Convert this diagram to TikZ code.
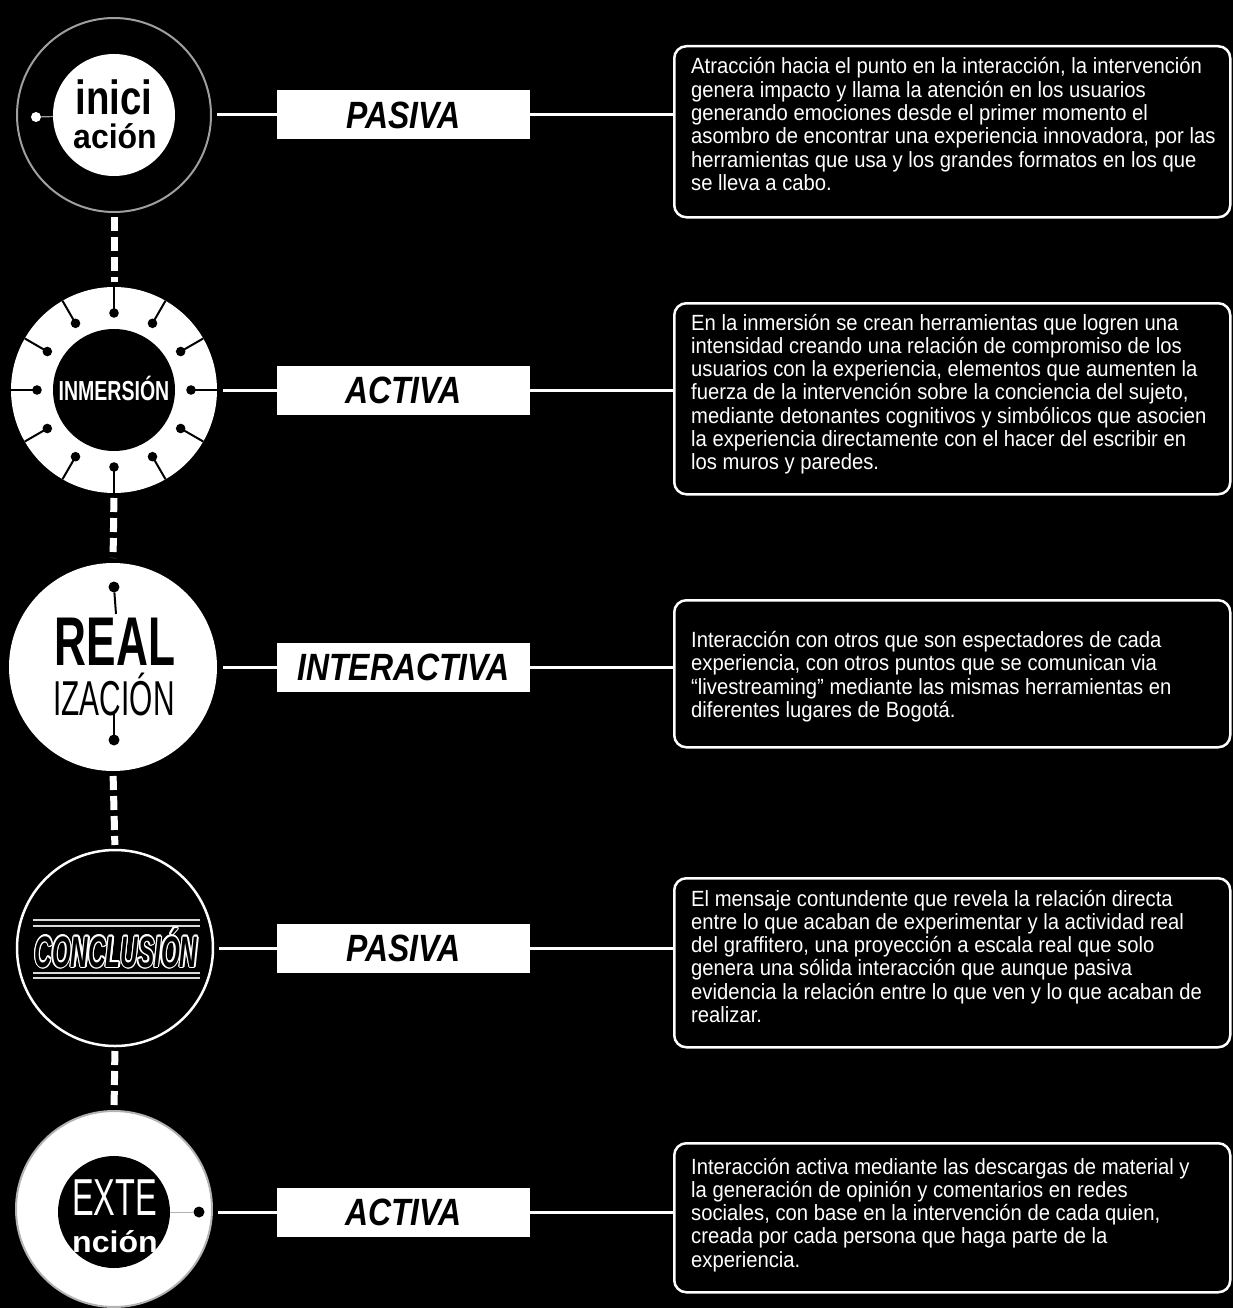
\documentclass[tikz,border=0pt]{standalone}
\usepackage{fontspec}
\setmainfont{Liberation Sans}
\newfontfamily\bodyfont[FakeStretch=0.92]{Liberation Sans}
\newfontfamily\labfont[FakeStretch=0.84]{Liberation Sans}
\begin{document}
\begin{tikzpicture}[x=1pt,y=-1pt,
  wl/.style={white, line width=3pt},
  dashl/.style={white, line width=7pt, dash pattern=on 14pt off 6pt, shorten <=5pt, shorten >=5pt},
  lbox/.style={fill=white, text=black, minimum width=253pt, minimum height=49pt, inner sep=0pt,
    font=\labfont\bfseries\itshape\fontsize{38}{38}\selectfont},
  tbox/.style={draw=white, line width=2.5pt, rounded corners=12pt, minimum width=556pt, anchor=north west, inner sep=0pt},
  body/.style={text=white, anchor=base west, inner sep=0pt, font=\bodyfont\fontsize{22}{23}\selectfont},
  disc/.style={circle, inner sep=0pt, outer sep=0pt},
  ctext/.style={inner sep=0pt, anchor=base},
]
\path[use as bounding box, fill=black] (0,0) rectangle (1233,1308);

% ---------- circle 1 : iniciación
\node[disc, draw=gray!75, line width=2pt, minimum size=194pt] (c1) at (114,115) {};
\node[disc, fill=white, minimum size=122pt] (c1in) at (114,115) {};
\node[ctext, text=black] (c1ta) at (114,115) {\scalebox{0.8}[1]{\fontsize{48}{48}\selectfont\bfseries inici}};
\node[ctext, text=black] (c1tb) at (115,149) {\scalebox{0.8}[0.85]{\fontsize{40}{40}\selectfont\bfseries ación}};
\node[disc, fill=white, minimum size=10pt] (c1d) at (36,117) {};
\draw[gray!75, line width=1.2pt] (c1d) -- (c1in);

% ---------- circle 2 : inmersión
\node[disc, fill=white, minimum size=206pt] (c2) at (114,390) {};
\node[disc, fill=black, minimum size=122pt] (c2in) at (114,390) {};
\foreach \a in {0,30,...,330} {
  \draw[black, line width=2pt] (c2.center) ++(\a:103) -- ++(\a:-26);
  \fill[black] (c2.center) ++(\a:77) circle[radius=4.8pt];
}
\node[ctext, text=white] (c2t) at (114,400) {\scalebox{0.71}[1]{\fontsize{27.5}{28}\selectfont\bfseries INMERSIÓN}};

% ---------- circle 3 : realización
\node[disc, fill=white, minimum size=208pt] (c3) at (113,667) {};
\node[ctext, text=black] (c3ta) at (115,665) {\scalebox{0.64}[1]{\fontsize{69}{69}\selectfont\bfseries REAL}};
\node[ctext, text=black] (c3tb) at (114,715) {\scalebox{0.61}[1]{\fontsize{49}{49}\selectfont IZACIÓN}};
\node[disc, fill=black, minimum size=11pt] (c3d1) at (114,587) {};
\node[disc, fill=black, minimum size=11pt] (c3d2) at (114,740) {};
\coordinate (c3e1) at (116,614);
\coordinate (c3e2) at (114,713);
\draw[black, line width=2pt] (c3d1) -- (c3e1);
\draw[black, line width=2pt] (c3d2) -- (c3e2);

% ---------- circle 4 : conclusión
\node[disc, draw=white, line width=2.5pt, minimum size=196pt] (c4) at (115,948) {};
\foreach \yy in {920,926,973,978}
  \draw[white!85!black, line width=1.6pt] (33,\yy) -- (200,\yy);
\foreach \a in {0,30,...,330}
  \node[ctext, text=white, xshift={1.3*cos(\a)}, yshift={1.3*sin(\a)}, name=c4o\a] at (116,967)
    {\scalebox{0.55}[1]{\fontsize{44}{44}\selectfont\bfseries\itshape CONCLUSIÓN}};
\node[ctext, text=black] (c4t) at (116,967) {\scalebox{0.55}[1]{\fontsize{44}{44}\selectfont\bfseries\itshape CONCLUSIÓN}};

% ---------- circle 5 : extención
\node[disc, fill=white, draw=gray!60, line width=2pt, minimum size=196pt] (c5) at (114,1209) {};
\node[disc, fill=black, minimum size=112pt] (c5in) at (114,1212) {};
\node[ctext, text=white] (c5ta) at (114.5,1215) {\scalebox{0.625}[1]{\fontsize{52}{52}\selectfont EXTE}};
\node[ctext, text=white] (c5tb) at (115,1252) {\scalebox{1.07}[1]{\fontsize{30}{30}\selectfont\bfseries nción}};
\node[disc, fill=black, minimum size=11pt] (c5d) at (199,1212) {};
\draw[gray!60, line width=1pt] (c5in) -- (c5d);

% ---------- vertical dashed links
\draw[dashl] (c1.south) -- (c2.north);
\draw[dashl] (c2.south) -- (c3.north);
\draw[dashl] (c3.south) -- (c4.north);
\draw[dashl] (c4.south) -- (c5.north);

% ---------- label boxes
\node[lbox] (l1) at (403.5,115) {PASIVA};
\node[lbox] (l2) at (403.5,390) {ACTIVA};
\node[lbox] (l3) at (403.5,667) {INTERACTIVA};
\node[lbox] (l4) at (403.5,948) {PASIVA};
\node[lbox] (l5) at (403.5,1212) {ACTIVA};

% ---------- text boxes
\node[tbox, minimum height=171pt] (t1) at (673,45) {};
\node[tbox, minimum height=191pt] (t2) at (673,302) {};
\node[tbox, minimum height=147pt] (t3) at (673,599) {};
\node[tbox, minimum height=169pt] (t4) at (673,877) {};
\node[tbox, minimum height=149pt] (t5) at (673,1142) {};

% ---------- connectors
\draw[wl, shorten <=6pt] (c1.east |- l1.west) -- (l1.west);
\draw[wl, shorten <=6pt] (c2.east |- l2.west) -- (l2.west);
\draw[wl, shorten <=6pt] (c3.east |- l3.west) -- (l3.west);
\draw[wl, shorten <=6pt] (c4.east |- l4.west) -- (l4.west);
\draw[wl, shorten <=6pt] (c5.east |- l5.west) -- (l5.west);
\draw[wl] (l1.east) -- (t1.west |- l1.east);
\draw[wl] (l2.east) -- (t2.west |- l2.east);
\draw[wl] (l3.east) -- (t3.west |- l3.east);
\draw[wl] (l4.east) -- (t4.west |- l4.east);
\draw[wl] (l5.east) -- (t5.west |- l5.east);

% ---------- body texts
\foreach \l [count=\i] in {
  {Atracción hacia el punto en la interacción, la intervención},
  {genera impacto y llama la atención en los usuarios},
  {generando emociones desde el primer momento el},
  {asombro de encontrar una experiencia innovadora, por las},
  {herramientas que usa y los grandes formatos en los que},
  {se lleva a cabo.}}
  \node[body, name=tx1l\i] at (691,{74+23.3*(\i-1)}) {\l};
\foreach \l [count=\i] in {
  {En la inmersión se crean herramientas que logren una},
  {intensidad creando una relación de compromiso de los},
  {usuarios con la experiencia, elementos que aumenten la},
  {fuerza de la intervención sobre la conciencia del sujeto,},
  {mediante detonantes cognitivos y simbólicos que asocien},
  {la experiencia directamente con el hacer del escribir en},
  {los muros y paredes.}}
  \node[body, name=tx2l\i] at (691,{330+23.3*(\i-1)}) {\l};
\foreach \l [count=\i] in {
  {Interacción con otros que son espectadores de cada},
  {experiencia, con otros puntos que se comunican via},
  {“livestreaming” mediante las mismas herramientas en},
  {diferentes lugares de Bogotá.}}
  \node[body, name=tx3l\i] at (691,{647.5+23.3*(\i-1)}) {\l};
\foreach \l [count=\i] in {
  {El mensaje contundente que revela la relación directa},
  {entre lo que acaban de experimentar y la actividad real},
  {del graffitero, una proyección a escala real que solo},
  {genera una sólida interacción que aunque pasiva},
  {evidencia la relación entre lo que ven y lo que acaban de},
  {realizar.}}
  \node[body, name=tx4l\i] at (691,{906+23.3*(\i-1)}) {\l};
\foreach \l [count=\i] in {
  {Interacción activa mediante las descargas de material y},
  {la generación de opinión y comentarios en redes},
  {sociales, con base en la intervención de cada quien,},
  {creada por cada persona que haga parte de la},
  {experiencia.}}
  \node[body, name=tx5l\i] at (691,{1174+23.3*(\i-1)}) {\l};
\end{tikzpicture}
\end{document}
